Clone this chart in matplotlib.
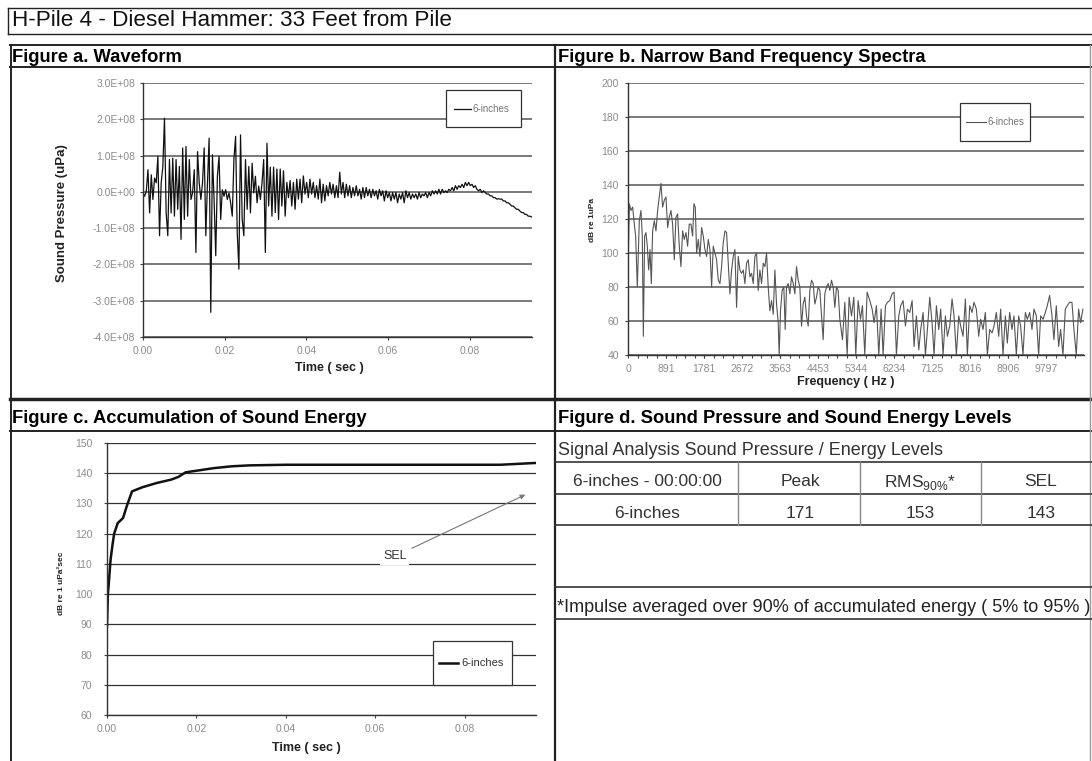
import numpy as np
import matplotlib.pyplot as plt
from matplotlib.lines import Line2D
from matplotlib.patches import Rectangle
from matplotlib.ticker import FuncFormatter, FixedLocator, MultipleLocator

plt.rcParams['font.family'] = ['Liberation Sans', 'DejaVu Sans']
plt.rcParams['mathtext.fontset'] = 'custom'
plt.rcParams['mathtext.rm'] = 'Liberation Sans'

W, H = 1092, 761

TITLE = "H-Pile 4 - Diesel Hammer: 33 Feet from Pile"
SERIES = "6-inches"

# Figure a - waveform, sound pressure in 1E+08 uPa, one sample every DT sec
DT = 0.000405
pressure_e8 = [
    -0.03, -0.12, 0.02, 0.61, -0.58, 0.47, -0.21, 0.38, 0.25, 0.98,
    -1.21, 0.25, 0.70, 2.03, -0.58, -1.21, 0.89, -0.58, 0.93, -0.67,
    0.89, -0.48, 0.70, -1.31, 1.21, -0.76, 1.25, -0.67, 0.89, -0.21,
    -0.03, 0.61, -1.67, 1.11, 0.25, -0.21, 0.25, 1.21, -1.21, 0.25,
    1.48, -3.32, 1.02, -0.21, -1.76, 0.43, 0.98, -0.76, 0.06, -0.12,
    0.06, -0.21, -0.03, -0.30, -0.67, 0.89, 1.53, -1.12, -2.13, 1.57,
    -0.76, -1.21, 0.89, -0.48, 0.70, -0.58, 0.79, -0.03, 0.43, -0.30,
    0.16, -0.21, 0.25, 0.89, -1.67, 1.34, -0.39,
    0.68, -0.67, 0.68, -0.57, 0.63, -0.76, 0.63, -0.39, 0.58, -0.67,
    0.26, -0.16, 0.31, -0.39, 0.26, -0.48, 0.35, -0.20, 0.35, -0.30,
    0.44, -0.06, 0.26, -0.16, 0.35, -0.06, 0.26, -0.16, 0.17, -0.20,
    0.35, -0.30, 0.21, -0.25, 0.17, -0.11, 0.26, -0.06, 0.21, -0.16,
    0.17, -0.16, 0.54, -0.06, 0.26, -0.16, 0.21, -0.11, 0.17, -0.16,
    0.12, -0.11, 0.17, -0.11, 0.07, -0.20, 0.12, -0.16, 0.12, -0.11,
    0.07, -0.16, 0.07, -0.11, 0.03, -0.20, 0.07, -0.11, 0.03, -0.25,
    0.03, -0.16, -0.02, -0.25, -0.02, -0.20, -0.02, -0.30, -0.06, -0.20,
    -0.02, -0.30, 0.03, -0.16, -0.02, -0.20, -0.06, -0.16, -0.06, -0.20,
    -0.02, -0.16, -0.06, -0.11, -0.02, -0.16, -0.02, -0.11, 0.03, -0.06,
    0.03, -0.06, 0.07, -0.06, 0.07, -0.02, 0.03, -0.02, 0.07, 0.03,
    0.12, 0.03, 0.17, 0.07, 0.17, 0.12, 0.21, 0.12, 0.26, 0.17,
    0.26, 0.17, 0.21, 0.12, 0.17, 0.07, 0.03, 0.07, -0.02, 0.03,
    -0.02, -0.06, -0.06, -0.11, -0.11, -0.16, -0.16, -0.20, -0.19, -0.20,
    -0.20, -0.25, -0.25, -0.30, -0.30, -0.34, -0.39, -0.39, -0.44, -0.48,
    -0.48, -0.53, -0.57, -0.57, -0.62, -0.62, -0.67, -0.67, -0.69,
]
time_ticks = [0.00, 0.02, 0.04, 0.06, 0.08]
pressure_ticks = [-4e8, -3e8, -2e8, -1e8, 0, 1e8, 2e8, 3e8]

# Figure b - narrow band spectrum (Hz, dB re 1uPa)
spec_freq = [
    0, 8, 31, 70, 109, 140, 179, 218, 265, 304, 335, 359, 390, 421, 452, 484,
    515, 546, 577, 616, 655, 694, 733, 772, 811, 850, 889, 928, 967, 1006,
    1045, 1084, 1123, 1162, 1201, 1240, 1279, 1318, 1357, 1396, 1435, 1474,
    1513, 1544, 1576, 1607, 1646, 1685, 1724, 1763, 1802, 1841, 1880, 1919,
    1958, 1997, 2036, 2075, 2114, 2153, 2192, 2231, 2270, 2309, 2348, 2387,
    2426, 2465, 2504, 2543, 2582, 2621, 2660, 2699, 2738, 2777, 2816, 2855,
    2894, 2933, 2972, 3011, 3050, 3089, 3128, 3167, 3206, 3245, 3284, 3323,
    3362, 3401, 3440, 3479, 3518, 3541, 3572, 3611, 3650, 3682, 3713, 3752,
    3791, 3830, 3869, 3908, 3947, 3986, 4025, 4064, 4103, 4142, 4181, 4220,
    4259, 4298, 4337, 4376, 4415, 4454, 4493, 4532, 4571, 4610, 4649, 4688,
    4727, 4766, 4805, 4844, 4883, 4922,
    4961, 5023, 5078, 5133, 5179, 5234, 5289, 5335, 5390, 5445, 5491, 5546,
    5601, 5663, 5718, 5764, 5819, 5874, 5928, 5975, 6030, 6076, 6131, 6186,
    6232, 6287, 6342, 6388, 6443, 6498, 6544, 6599, 6654, 6700, 6755, 6810,
    6856, 6911, 6966, 7012, 7067, 7122, 7168, 7223, 7278, 7324, 7379, 7434,
    7480, 7535, 7590, 7636, 7691, 7746, 7792, 7847, 7902, 7948, 8003, 8058,
    8104, 8159, 8214, 8260, 8315, 8370, 8416, 8471, 8526, 8572, 8627, 8682,
    8728, 8783, 8838, 8884, 8939, 8994, 9040, 9095, 9150, 9196, 9251, 9306,
    9352, 9407, 9462, 9508, 9563, 9618, 9664, 9719, 9774, 9820, 9875, 9930,
    9976, 10031, 10086, 10132, 10187, 10242, 10288, 10343, 10398, 10444,
    10499, 10554, 10600, 10655,
]
spec_level = [
    140, 98, 129, 125, 127, 119, 110, 80, 119, 125, 110, 51, 110, 112, 104, 90,
    102, 82, 113, 119, 113, 125, 133, 141, 127, 131, 133, 115, 121, 125,
    117, 96, 121, 123, 104, 92, 113, 108, 112, 104, 117, 117,
    110, 129, 127, 100, 108, 98, 115, 110, 102, 98, 108, 102,
    80, 104, 100, 96, 84, 82, 92, 106, 113, 112, 94, 76,
    90, 98, 102, 68, 98, 90, 88, 90, 82, 94, 96, 86,
    88, 82, 98, 100, 78, 90, 82, 94, 92, 100, 80, 66,
    72, 64, 90, 70, 59, 40, 66, 78, 80, 55, 80, 82,
    76, 86, 82, 76, 92, 84, 80, 57, 70, 74, 63, 57,
    78, 84, 82, 70, 74, 80, 78, 63, 49, 76, 80, 82,
    78, 84, 80, 68, 80, 78,
    61, 49, 71, 40, 74, 63, 74, 40, 72, 61, 69, 40,
    77, 72, 67, 59, 69, 40, 67, 40, 69, 71, 72, 76,
    77, 40, 63, 69, 72, 57, 67, 65, 72, 45, 63, 43,
    55, 65, 40, 55, 74, 59, 40, 69, 55, 67, 40, 63,
    51, 57, 73, 63, 40, 63, 57, 51, 73, 40, 69, 65,
    71, 67, 51, 61, 55, 65, 40, 55, 53, 57, 65, 51,
    67, 40, 63, 47, 65, 55, 63, 40, 63, 57, 40, 65,
    61, 65, 55, 67, 63, 40, 63, 61, 65, 69, 75, 63,
    49, 69, 45, 55, 40, 67, 69, 71, 71, 55,
    40, 67, 59, 67,
]
freq_ticks = [0, 891, 1781, 2672, 3563, 4453, 5344, 6234, 7125, 8016, 8906, 9797]

# Figure c - accumulated sound energy (dB re 1uPa^2 sec)
sel_time = [0.0, 0.0002, 0.0004, 0.0008, 0.0012, 0.0016, 0.0024, 0.0036, 0.0044,
            0.0056, 0.008, 0.0112, 0.0144, 0.016, 0.0176, 0.0208, 0.024,
            0.028, 0.032, 0.04, 0.088, 0.096]
sel_level = [89.3, 100.0, 103.6, 111.4, 116.0, 120.0, 123.5, 125.2, 129.0,
             134.0, 135.4, 136.8, 137.9, 138.8, 140.3, 141.0, 141.7,
             142.3, 142.6, 142.8, 142.8, 143.4]

# Figure d - table
table_title = "Signal Analysis Sound Pressure / Energy Levels"
table_header = ["6-inches - 00:00:00", "Peak", r"RMS$_{90\%}$*", "SEL"]
table_row = ["6-inches", "171", "153", "143"]
footnote = "*Impulse averaged over 90% of accumulated energy ( 5% to 95% )"


def fpos(l, t, r, b):
    return [l / W, 1 - b / H, (r - l) / W, (b - t) / H]


def fig_line(fig, x0, y0, x1, y1, lw=1.4, color='#222222'):
    fig.add_artist(Line2D([x0 / W, x1 / W], [1 - y0 / H, 1 - y1 / H],
                          transform=fig.transFigure, lw=lw, color=color))


def fig_text(fig, x, y, s, **kw):
    fig.text(x / W, 1 - y / H, s, va='center', **kw)


def style(ax, ypad):
    for s in ['top', 'right']:
        ax.spines[s].set_visible(False)
    for s in ['left', 'bottom']:
        ax.spines[s].set_color('#333333')
        ax.spines[s].set_linewidth(1.0)
    ax.tick_params(labelsize=7.5, labelcolor='#8c8c8c', length=2.5,
                   width=0.8, color='#444444', direction='out')
    ax.tick_params(axis='y', pad=ypad)
    ax.tick_params(axis='x', pad=4)
    ax.yaxis.grid(True, color='#555555', lw=1.1)
    ax.set_axisbelow(True)


# Excel style legend box: box (x0, y0, x1, y1), handle line x range, text start
def box_legend(ax, box, hx, tx, line, size, color):
    x0, y0, x1, y1 = box
    ym = (y0 + y1) / 2
    ax.add_patch(Rectangle((x0, y0), x1 - x0, y1 - y0, transform=ax.transAxes,
                           fc='white', ec='#333333', lw=0.9, zorder=5))
    ax.add_line(Line2D(hx, [ym, ym], transform=ax.transAxes, color=line.get_color(),
                       lw=line.get_linewidth(), zorder=6))
    ax.text(tx, ym, line.get_label(), transform=ax.transAxes, fontsize=size,
            color=color, va='center', ha='left', zorder=6)


fig = plt.figure(figsize=(W / 100, H / 100), dpi=100)
fig.patch.set_facecolor('white')

# frames
fig_line(fig, 8, 8, W, 8, lw=1.0)
fig_line(fig, 8, 34, W, 34, lw=1.0)
fig_line(fig, 8, 8, 8, 34, lw=1.0)
fig_line(fig, 10, 45, W, 45)
fig_line(fig, 10, 67, W, 67)
fig_line(fig, 10, 399, W, 399, lw=2.5)
fig_line(fig, 10, 431, W, 431)
fig_line(fig, 11, 45, 11, H)
fig_line(fig, 555, 45, 555, H, lw=1.6)
fig_line(fig, 1090, 45, 1090, H, lw=1.0, color='#999999')

fig_text(fig, 12, 21, TITLE, fontsize=16.2, color='#111111')
fig_text(fig, 12, 57, "Figure a. Waveform", fontsize=13.2, fontweight='bold')
fig_text(fig, 558, 57, "Figure b. Narrow Band Frequency Spectra", fontsize=13.2, fontweight='bold')
fig_text(fig, 12, 419, "Figure c. Accumulation of Sound Energy", fontsize=13.2, fontweight='bold')
fig_text(fig, 558, 419, "Figure d. Sound Pressure and Sound Energy Levels", fontsize=13.2, fontweight='bold')

# Figure a
ax1 = fig.add_axes(fpos(143, 83, 532, 337))
t = np.arange(len(pressure_e8)) * DT
wave, = ax1.plot(t, np.array(pressure_e8) * 1e8, color='#111111', lw=0.9, label=SERIES)
ax1.set_xlim(0, 0.0953)
ax1.set_ylim(-4e8, 3e8)
ax1.yaxis.set_major_locator(FixedLocator(pressure_ticks))
ax1.yaxis.set_major_formatter(FuncFormatter(lambda v, p: f"{v:.1E}"))
ax1.xaxis.set_major_locator(FixedLocator(time_ticks))
ax1.xaxis.set_major_formatter(FuncFormatter(lambda v, p: f"{v:.2f}"))
style(ax1, 3)
ax1.set_xlabel("Time ( sec )", fontsize=9, fontweight='bold', color='#222222')
ax1.xaxis.set_label_coords(0.48, -0.122)
ax1.xaxis.label.set_va('center')
ax1.set_ylabel("Sound Pressure (uPa)", fontsize=9.5, fontweight='bold', color='#222222')
ax1.yaxis.set_label_coords(-0.208, 0.488)
ax1.yaxis.label.set_va('center')
box_legend(ax1, (0.779, 0.827, 0.972, 0.972), [0.8, 0.843], 0.848, wave, 7, '#777777')

# Figure b
ax2 = fig.add_axes(fpos(628, 83, 1084, 355))
spec, = ax2.plot(spec_freq, spec_level, color='#555555', lw=0.8, label=SERIES)
ax2.set_xlim(0, 10680)
ax2.set_ylim(40, 200)
ax2.yaxis.set_major_locator(MultipleLocator(20))
ax2.xaxis.set_major_locator(FixedLocator(freq_ticks))
ax2.xaxis.set_minor_locator(MultipleLocator(222.7))
style(ax2, 4)
ax2.tick_params(axis='x', which='minor', length=2.5, width=0.8, color='#444444')
ax2.set_xlabel("Frequency ( Hz )", fontsize=9, fontweight='bold', color='#222222')
ax2.xaxis.set_label_coords(0.478, -0.1)
ax2.xaxis.label.set_va('center')
ax2.set_ylabel("dB re 1uPa", fontsize=6, fontweight='bold', color='#222222')
ax2.yaxis.set_label_coords(-0.077, 0.496)
ax2.yaxis.label.set_va('center')
box_legend(ax2, (0.728, 0.787, 0.882, 0.926), [0.742, 0.784], 0.788, spec, 7, '#777777')

# Figure c
ax3 = fig.add_axes(fpos(107, 443, 536, 715))
sel, = ax3.plot(sel_time, sel_level, color='#111111', lw=1.8, label=SERIES)
ax3.set_xlim(0, 0.096)
ax3.set_ylim(60, 150)
ax3.yaxis.set_major_locator(MultipleLocator(10))
ax3.xaxis.set_major_locator(FixedLocator(time_ticks))
ax3.xaxis.set_major_formatter(FuncFormatter(lambda v, p: f"{v:.2f}"))
style(ax3, 8)
ax3.yaxis.grid(True, color='#333333', lw=0.9)
ax3.set_xlabel("Time ( sec )", fontsize=9, fontweight='bold', color='#222222')
ax3.xaxis.set_label_coords(0.465, -0.121)
ax3.xaxis.label.set_va('center')
ax3.set_ylabel("dB re 1 uPa\u00b2sec", fontsize=6, fontweight='bold', color='#222222')
ax3.yaxis.set_label_coords(-0.107, 0.485)
ax3.yaxis.label.set_va('center')
ax3.annotate("SEL", xy=(0.0936, 132.9), xytext=(0.0644, 112.5), ha='center', va='center',
             fontsize=9, color='#333333', bbox=dict(fc='white', ec='none', pad=2),
             arrowprops=dict(arrowstyle='-|>', color='#777777', lw=0.8,
                             mutation_scale=7, shrinkA=2, shrinkB=0))
box_legend(ax3, (0.760, 0.110, 0.944, 0.272), [0.774, 0.818], 0.825, sel, 8, '#333333')

# Figure d - table drawn as text and rules
fig_text(fig, 558, 451, table_title, fontsize=13, color='#333333')
for y in [462, 494, 525, 587, 619]:
    fig_line(fig, 555, y, W, y, lw=1.2, color='#333333')
for x in [738, 860, 981]:
    fig_line(fig, x, 462, x, 525, lw=1.0, color='#888888')
col_x = [647, 800, 920, 1041]
for cx, h, v in zip(col_x, table_header, table_row):
    fig_text(fig, cx, 482, h, fontsize=12.5, color='#333333', ha='center')
    fig_text(fig, cx, 513, v, fontsize=12.5, color='#333333', ha='center')
fig_text(fig, 557, 607, footnote, fontsize=13, color='#222222')

fig.savefig("out.png", dpi=100, facecolor='white')
